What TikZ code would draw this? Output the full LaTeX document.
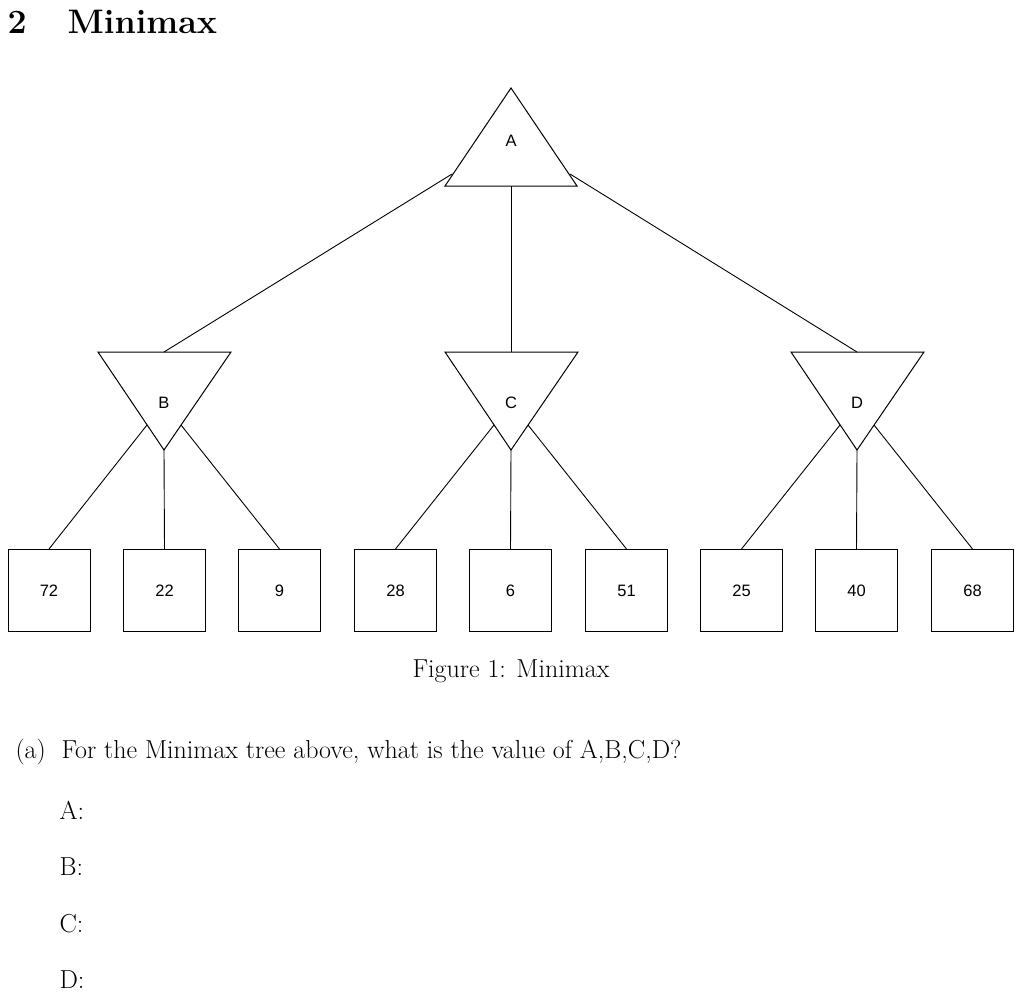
\documentclass[tikz,border=0pt]{standalone}
\usepackage{fontspec}
\newfontfamily\lab{Liberation Sans}
\begin{document}
\begin{tikzpicture}[x=1pt,y=-1pt,
  leaf/.style={draw,line width=1pt,minimum width=82pt,minimum height=82pt,font=\lab\fontsize{16.5}{18}\selectfont},
  edge/.style={line width=0.9pt},
  tri/.style={line width=1pt},
  lbl/.style={font=\lab\fontsize{16.5}{18}\selectfont},
  body/.style={font=\fontsize{26}{30}\selectfont}]
\useasboundingbox (0,0) rectangle (1024,998);
\node[anchor=west,font=\fontsize{34}{38}\selectfont\bfseries] (title) at (4,22) {2\hspace{41pt}Minimax};
% A
\draw[tri] (511,88) -- (577,186) -- (445,186) -- cycle;
\node[lbl] (A) at (511,141) {A};
\coordinate (Al) at (452,174); \coordinate (Ab) at (511,186); \coordinate (Ar) at (570,174);
% MIN nodes
\foreach \n/\x in {B/164,C/511,D/857}{
  \draw[tri] (\x-66,352) -- (\x+67,352) -- (\x,450) -- cycle;
  \node[lbl] (\n) at (\x,403) {\n};
  \coordinate (\n t) at (\x,352);
  \coordinate (\n l) at (\x-17,425);
  \coordinate (\n b) at (\x,450);
  \coordinate (\n r) at (\x+17,425);
}
\draw[edge] (Al) -- (Bt); \draw[edge] (Ab) -- (Ct); \draw[edge] (Ar) -- (Dt);
% leaves
\foreach \i/\x/\v in {1/49/72,2/164.5/22,3/279.5/9,4/395.5/28,5/510.5/6,6/626.5/51,7/741.5/25,8/856.5/40,9/972.5/68}{
  \node[leaf] (L\i) at (\x,590.5) {\raisebox{-2pt}{\v}};
}
\draw[edge] (Bl) -- (L1.north); \draw[edge] (Bb) -- (L2.north); \draw[edge] (Br) -- (L3.north);
\draw[edge] (Cl) -- (L4.north); \draw[edge] (Cb) -- (L5.north); \draw[edge] (Cr) -- (L6.north);
\draw[edge] (Dl) -- (L7.north); \draw[edge] (Db) -- (L8.north); \draw[edge] (Dr) -- (L9.north);
\node[body] (cap) at (511,671) {Figure 1: Minimax};
\node[anchor=west,body] (q) at (12,752) {(a)\ \ For the Minimax tree above, what is the value of A,B,C,D?};
\foreach \t/\y in {A/810,B/867,C/924,D/980}{
  \node[anchor=west,body] (ans\t) at (56,\y) {\t:};
}
\end{tikzpicture}
\end{document}
